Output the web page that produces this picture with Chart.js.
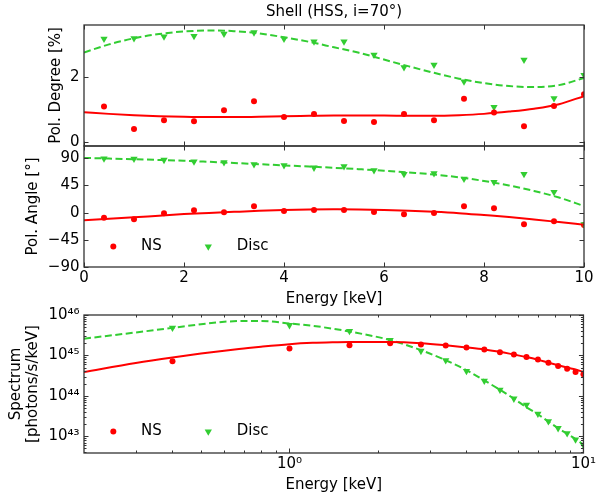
<!DOCTYPE html>
<html>
<head>
<meta charset="utf-8">
<script src="https://cdn.jsdelivr.net/npm/chart.js@4/dist/chart.umd.min.js"></script>
<style>
  html, body { margin: 0; padding: 0; background: #ffffff; }
  #wrap { position: relative; width: 598px; height: 496px; overflow: hidden; background: #fff; }
  #wrap canvas { position: absolute; left: 0; top: 0; }
</style>
</head>
<body>
<div id="wrap">
  <canvas id="c1" width="598" height="496"></canvas>
  <canvas id="c2" width="598" height="496"></canvas>
  <canvas id="c3" width="598" height="496"></canvas>
</div>
<script>
// ---------------- DATA ----------------
const energies = [0.4, 1.0, 1.6, 2.2, 2.8, 3.4, 4.0, 4.6, 5.2, 5.8, 6.4, 7.0, 7.6, 8.2, 8.8, 9.4, 10.0];

// Polarisation degree [%]
const pdNS   = [1.10, 0.40, 0.67, 0.64, 0.98, 1.26, 0.77, 0.87, 0.65, 0.62, 0.87, 0.67, 1.34, 0.91, 0.49, 1.11, 1.48];
const pdDisc = [3.19, 3.21, 3.26, 3.28, 3.35, 3.39, 3.19, 3.11, 3.11, 2.70, 2.31, 2.39, 1.87, 1.08, 2.54, 1.35, 2.07];

// Polarisation angle [deg]
const paNS   = [-8.3, -11.0, -1.0, 4.0, 0.5, 10.6, 2.8, 4.5, 4.5, 1.2, -2.8, -0.5, 10.6, 7.2, -19.4, -14.4, -20.5];
const paDisc = [89.5, 89.0, 87.3, 84.5, 83.3, 80.0, 78.3, 74.5, 76.7, 70.0, 64.0, 65.0, 56.0, 50.6, 64.0, 34.0, -19.4];

// Spectrum [photons/s/keV]
const specNS   = [7.2e44, 1.48e45, 1.78e45, 2.0e45, 1.87e45, 1.77e45, 1.58e45, 1.41e45, 1.2e45, 1.05e45, 9.2e44, 7.9e44, 6.6e44, 5.5e44, 4.7e44, 3.9e44, 3.4e44];
const specDisc = [4.8e45, 5.6e45, 4.0e45, 2.4e45, 1.29e45, 7.6e44, 4.1e44, 2.35e44, 1.41e44, 8.5e43, 6.0e43, 3.6e43, 2.35e43, 1.58e43, 1.18e43, 8.3e42, 6.0e42];

// Model curves
const fitE      = [0, 0.5, 1, 1.5, 2, 2.5, 3, 3.5, 4, 4.5, 5, 5.5, 6, 6.5, 7, 7.5, 8, 8.5, 9, 9.5, 10];
const pdFitNS   = [0.92, 0.87, 0.83, 0.80, 0.78, 0.77, 0.77, 0.78, 0.80, 0.81, 0.82, 0.82, 0.82, 0.81, 0.81, 0.83, 0.87, 0.94, 1.03, 1.17, 1.42];
const pdFitDisc = [2.77, 3.02, 3.21, 3.34, 3.42, 3.45, 3.43, 3.36, 3.24, 3.10, 2.93, 2.76, 2.55, 2.34, 2.14, 1.96, 1.82, 1.73, 1.70, 1.76, 1.98];
const paFitNS   = [-12.7, -10.2, -7.7, -5.0, -2.4, -0.5, 1.3, 3.0, 4.3, 5.2, 5.5, 5.3, 4.5, 3.2, 1.5, -0.8, -4.0, -7.3, -11.3, -15.6, -20.0];
const paFitDisc = [90.6, 89.6, 88.5, 87.3, 86.0, 84.2, 82.3, 80.3, 78.3, 76.3, 74.3, 72.0, 69.5, 66.5, 63.2, 58.5, 52.5, 45.0, 36.0, 25.0, 11.0];

const specFitE    = [0.2, 0.3, 0.4, 0.5, 0.6, 0.7, 0.8, 1.0, 1.2, 1.4, 1.6, 2.2, 2.8, 3.4, 4.0, 4.6, 5.2, 5.8, 6.4, 7.0, 7.6, 8.2, 8.8, 9.4, 10];
const specFitNS   = [3.9e44, 6.5e44, 8.9e44, 1.11e45, 1.31e45, 1.48e45, 1.64e45, 1.9e45, 2.05e45, 2.12e45, 2.15e45, 2.14e45, 2.0e45, 1.78e45, 1.58e45, 1.41e45, 1.23e45, 1.05e45, 9.1e44, 7.8e44, 6.6e44, 5.75e44, 5.0e44, 4.5e44, 3.9e44];
const specFitDisc = [2.6e45, 3.7e45, 4.8e45, 5.9e45, 6.8e45, 7.1e45, 7.1e45, 6.2e45, 5.4e45, 4.6e45, 3.9e45, 2.4e45, 1.35e45, 7.6e44, 4.3e44, 2.4e44, 1.41e44, 8.5e43, 5.2e43, 3.5e43, 2.3e43, 1.58e43, 1.15e43, 8.5e42, 6.2e42];

// Tick labels
const xTicks     = [0, 2, 4, 6, 8, 10];
const pdTicks    = [0, 2];
const paTicks    = [-90, -45, 0, 45, 90];
const specXTicks = [1, 10];
const specYTicks = [1e43, 1e44, 1e45, 1e46];

const titleText = 'Shell (HSS, i=70°)';
const seriesNames = ['NS', 'Disc'];

// ---------------- STYLE ----------------
const RED = '#ff0000';
const GREEN = '#32cd32';
const FONT = { family: 'DejaVu Sans', size: 15 };
const TXT = '#000000';
const FRAME = '#333333';
Chart.defaults.font.family = 'DejaVu Sans';
Chart.defaults.font.size = 15;
Chart.defaults.color = TXT;

const SUP = { '0': '⁰', '1': '¹', '2': '²', '3': '³', '4': '⁴', '5': '⁵', '6': '⁶', '7': '⁷', '8': '⁸', '9': '⁹', '-': '⁻' };
function pow10Label(v) {
  const e = Math.round(Math.log10(v));
  return '10' + String(e).split('').map(c => SUP[c]).join('');
}
function minusLabel(v) { return v < 0 ? '\u2212' + Math.abs(v) : String(v); }

function pts(xs, ys) { return xs.map((x, i) => ({ x: x, y: ys[i] })); }

function logMinor(lo, hi) {
  const out = [];
  for (let d = Math.floor(Math.log10(lo)); d <= Math.ceil(Math.log10(hi)); d++) {
    for (let m = 2; m <= 9; m++) {
      const v = m * Math.pow(10, d);
      if (v > lo && v < hi) out.push(v);
    }
  }
  return out;
}

// frame + inward ticks
function makeFrame(cfg) {
  return {
    id: 'frame_' + Math.random().toString(36).slice(2),
    afterDatasetsDraw(chart) {
      const { ctx, chartArea: a, scales } = chart;
      const xs = scales.x, ys = scales.y;
      ctx.save();
      ctx.strokeStyle = FRAME;
      ctx.lineWidth = 1;
      const seg = (x1, y1, x2, y2) => { ctx.beginPath(); ctx.moveTo(x1, y1); ctx.lineTo(x2, y2); ctx.stroke(); };
      const doX = (vals, L) => vals.forEach(v => {
        const p = Math.round(xs.getPixelForValue(v)) + 0.5;
        if (p < a.left - 1 || p > a.right + 1) return;
        seg(p, a.bottom, p, a.bottom - L); seg(p, a.top, p, a.top + L);
      });
      const doY = (vals, L) => vals.forEach(v => {
        const p = Math.round(ys.getPixelForValue(v)) + 0.5;
        if (p < a.top - 1 || p > a.bottom + 1) return;
        seg(a.left, p, a.left + L, p); seg(a.right, p, a.right - L, p);
      });
      doX(cfg.xMajor || [], 4.5);
      doY(cfg.yMajor || [], 4.5);
      doX(cfg.xMinor || [], 2.5);
      doY(cfg.yMinor || [], 2.5);
      ctx.lineWidth = 1.3;
      ctx.strokeRect(a.left, a.top, a.width, a.height);
      ctx.restore();
    }
  };
}

// legend inside the axes
function makeLegend(y) {
  return {
    id: 'leg_' + Math.random().toString(36).slice(2),
    afterDatasetsDraw(chart) {
      const ctx = chart.ctx;
      ctx.save();
      ctx.fillStyle = RED;
      ctx.beginPath(); ctx.arc(113.3, y, 3, 0, Math.PI * 2); ctx.fill();
      ctx.fillStyle = GREEN;
      const r = 4.2, cx = 208.3;
      ctx.beginPath();
      ctx.moveTo(cx, y + r);
      ctx.lineTo(cx - r * 0.866, y - r * 0.5);
      ctx.lineTo(cx + r * 0.866, y - r * 0.5);
      ctx.closePath(); ctx.fill();
      ctx.fillStyle = TXT;
      ctx.font = '15px "DejaVu Sans"';
      ctx.textBaseline = 'middle';
      ctx.textAlign = 'left';
      ctx.fillText(seriesNames[0], 141, y);
      ctx.fillText(seriesNames[1], 236.7, y);
      ctx.restore();
    }
  };
}

function scatterDS(label, data, color, isTri) {
  return {
    label: label, data: data, showLine: false,
    pointStyle: isTri ? 'triangle' : 'circle',
    pointRotation: isTri ? 180 : 0,
    pointRadius: isTri ? 4.2 : 3,
    pointBackgroundColor: color, pointBorderColor: color, pointBorderWidth: 0,
    borderColor: color, backgroundColor: color
  };
}
function lineDS(label, data, color, dashed) {
  return {
    label: label, data: data, showLine: true, pointRadius: 0,
    borderColor: color, borderWidth: 2, borderDash: dashed ? [7, 3.5] : [],
    cubicInterpolationMode: 'monotone', fill: false
  };
}

const baseOpts = {
  responsive: false, animation: false, devicePixelRatio: 1,
  events: [],
};
const noGrid = { display: false, drawTicks: false };

// ---------------- CHART 1: polarisation degree ----------------
new Chart(document.getElementById('c1'), {
  type: 'line',
  data: {
    datasets: [
      lineDS('NS model', pts(fitE, pdFitNS), RED, false),
      lineDS('Disc model', pts(fitE, pdFitDisc), GREEN, true),
      scatterDS('NS', pts(energies, pdNS), RED, false),
      scatterDS('Disc', pts(energies, pdDisc), GREEN, true)
    ]
  },
  options: Object.assign({}, baseOpts, {
    layout: { padding: { left: 0, right: 14, top: 0, bottom: 350 } },
    plugins: {
      legend: { display: false }, tooltip: { enabled: false },
      title: { display: true, text: titleText, fullSize: false, color: TXT, font: { family: 'DejaVu Sans', size: 15, weight: 'normal' }, padding: { top: 3, bottom: 4 } }
    },
    scales: {
      x: { type: 'linear', min: 0, max: 10, display: false },
      y: {
        type: 'linear', min: -0.124, max: 3.62,
        afterFit(s) { s.width = 84; },
        afterBuildTicks(s) { s.ticks = pdTicks.map(v => ({ value: v })); },
        grid: noGrid, border: { display: false },
        ticks: { padding: 4.5, color: TXT, font: FONT, callback: v => minusLabel(v) },
        title: { display: true, text: 'Pol. Degree [%]', color: TXT, font: FONT, padding: { top: 47, bottom: 0 } }
      }
    }
  }),
  plugins: [makeFrame({ xMajor: xTicks, yMajor: pdTicks })]
});

// ---------------- CHART 2: polarisation angle ----------------
new Chart(document.getElementById('c2'), {
  type: 'line',
  data: {
    datasets: [
      lineDS('NS model', pts(fitE, paFitNS), RED, false),
      lineDS('Disc model', pts(fitE, paFitDisc), GREEN, true),
      scatterDS('Disc', pts(energies, paDisc), GREEN, true),
      scatterDS('NS', pts(energies, paNS), RED, false)
    ]
  },
  options: Object.assign({}, baseOpts, {
    layout: { padding: { left: 0, right: 14, top: 146, bottom: 188 } },
    plugins: { legend: { display: false }, tooltip: { enabled: false }, title: { display: false } },
    scales: {
      x: {
        type: 'linear', min: 0, max: 10,
        afterFit(s) { s.height = 41; },
        afterBuildTicks(s) { s.ticks = xTicks.map(v => ({ value: v })); },
        grid: noGrid, border: { display: false },
        ticks: { padding: 2, color: TXT, font: FONT, maxRotation: 0, autoSkip: false },
        title: { display: true, text: 'Energy [keV]', color: TXT, font: FONT, padding: { top: 0, bottom: 0 } }
      },
      y: {
        type: 'linear', min: -90, max: 110.4,
        afterFit(s) { s.width = 84; },
        afterBuildTicks(s) { s.ticks = paTicks.map(v => ({ value: v })); },
        grid: noGrid, border: { display: false },
        ticks: { padding: 4.5, color: TXT, font: FONT, callback: v => minusLabel(v) },
        title: { display: true, text: 'Pol. Angle [°]', color: TXT, font: FONT, padding: { top: 24, bottom: 0 } }
      }
    }
  }),
  plugins: [makeFrame({ xMajor: xTicks, yMajor: paTicks }), makeLegend(246.5)]
});

// ---------------- CHART 3: spectrum ----------------
const specXMin = 0.2, specXMax = 10, specYMin = 3.85e42, specYMax = 1e46;
new Chart(document.getElementById('c3'), {
  type: 'line',
  data: {
    datasets: [
      lineDS('NS model', pts(specFitE, specFitNS), RED, false),
      lineDS('Disc model', pts(specFitE, specFitDisc), GREEN, true),
      scatterDS('NS', pts(energies, specNS), RED, false),
      scatterDS('Disc', pts(energies, specDisc), GREEN, true)
    ]
  },
  options: Object.assign({}, baseOpts, {
    layout: { padding: { left: 0, right: 14, top: 315, bottom: 2 } },
    plugins: { legend: { display: false }, tooltip: { enabled: false }, title: { display: false } },
    scales: {
      x: {
        type: 'logarithmic', min: specXMin, max: specXMax,
        afterFit(s) { s.height = 41; },
        afterBuildTicks(s) { s.ticks = specXTicks.map(v => ({ value: v })); },
        grid: noGrid, border: { display: false },
        ticks: { padding: 2, color: TXT, font: FONT, maxRotation: 0, autoSkip: false, callback: v => pow10Label(v) },
        title: { display: true, text: 'Energy [keV]', color: TXT, font: FONT, padding: { top: 0, bottom: 0 } }
      },
      y: {
        type: 'logarithmic', min: specYMin, max: specYMax,
        afterFit(s) { s.width = 84; },
        afterBuildTicks(s) { s.ticks = specYTicks.map(v => ({ value: v })); },
        grid: noGrid, border: { display: false },
        ticks: { padding: 4.5, color: TXT, font: FONT, autoSkip: false, callback: v => pow10Label(v) },
        title: { display: true, text: ['Spectrum', '[photons/s/keV]'], color: TXT, font: { family: 'DejaVu Sans', size: 15, lineHeight: 1.15 }, padding: { top: 7, bottom: 0 } }
      }
    }
  }),
  plugins: [
    makeFrame({ xMajor: specXTicks, yMajor: specYTicks, xMinor: logMinor(specXMin, specXMax), yMinor: logMinor(specYMin, specYMax) }),
    makeLegend(431.5)
  ]
});
</script>
</body>
</html>
